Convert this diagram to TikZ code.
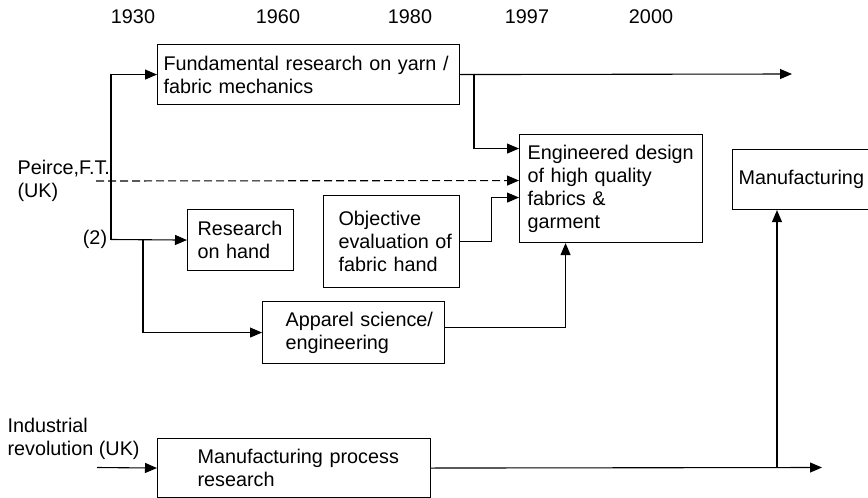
\documentclass[tikz,border=0pt]{standalone}
\usepackage{fontspec}
\setmainfont{Liberation Sans}
\usetikzlibrary{arrows.meta}
\tikzset{
 box/.style={draw, line width=1.1pt, align=left, anchor=north west, inner ysep=0pt},
 arr/.style={-{Triangle[length=12pt,width=10pt]}}
}
\begin{document}
\begin{tikzpicture}[x=1pt, y=-1pt, line width=1.1pt, line join=miter, font=\fontsize{19.8}{23}\selectfont]
 \useasboundingbox (0,0) rectangle (868,498);
 \clip (0,0) rectangle (868,498);
 \path
 (133,17) node (y1930) {1930}
 (278,17) node (y1960) {1960}
 (410,17) node (y1980) {1980}
 (527,17) node (y1997) {1997}
 (651,17) node (y2000) {2000};
 \node[box, inner xsep=6pt, text width=290pt, minimum height=60pt] (fund) at (157,44) {\mbox{Fundamental research on yarn /}\\fabric mechanics};
 \node[box, inner xsep=8pt, text width=167pt, minimum height=108pt] (eng) at (519,134) {\mbox{Engineered design}\\of high quality\\fabrics \&\\garment};
 \node[box, inner xsep=10pt, text width=86pt, minimum height=61pt] (hand) at (187,209) {Research\\on hand};
 \node[box, inner xsep=15pt, text width=106pt, minimum height=92pt] (obj) at (323,195) {Objective\\\mbox{evaluation of}\\\mbox{fabric hand}};
 \node[box, inner xsep=23pt, text width=136pt, minimum height=62pt] (apparel) at (262,301) {\mbox{Apparel science/}\\engineering};
 \node[box, inner xsep=6pt, text width=138pt, minimum height=60pt] (manuf) at (732,149) {Manufacturing};
 \node[box, inner xsep=40pt, text width=193pt, minimum height=59pt] (mpr) at (157,438) {\mbox{Manufacturing process}\\research};
 \node[align=left, anchor=west, inner sep=0pt] (peirce) at (17,181) {Peirce,F.T.\\(UK)};
 \node[inner sep=0pt] (two) at (95,239) {(2)};
 \node[align=left, anchor=west, inner sep=0pt] (indus) at (7,439) {Industrial\\revolution (UK)};
 \coordinate (split) at (111,239.5);
 \coordinate (fork) at (143,239.5);
 \coordinate (br) at (474,74);
 \coordinate (fundend) at (792,74);
 \coordinate (dstart) at (96,181);
 \coordinate (mprend) at (822,467.5);
 \coordinate (up) at (777,467.5);
 \coordinate (instart) at (97,467.5);
 \draw[arr] (split) |- (fund.west);
 \draw[arr] (split) -- (hand.west);
 \draw[arr] (fork) |- (apparel.west);
 \draw[arr] (fund.east) -- (fundend);
 \draw[arr] (br) |- ([yshift=40pt]eng.west);
 \draw[arr, dashed, dash pattern=on 8pt off 4pt] (dstart) -- ([yshift=8pt]eng.west);
 \draw[arr] (obj.east) -- ++(31,0) |- ([yshift=-9pt]eng.west);
 \draw[arr] ([yshift=5pt]apparel.east) -| ([xshift=-45.5pt]eng.south);
 \draw[arr] (mpr.east) -- (mprend);
 \draw[arr] (up) -- (up |- manuf.south);
 \draw[arr] (instart) -- (mpr.west);
\end{tikzpicture}
\end{document}
